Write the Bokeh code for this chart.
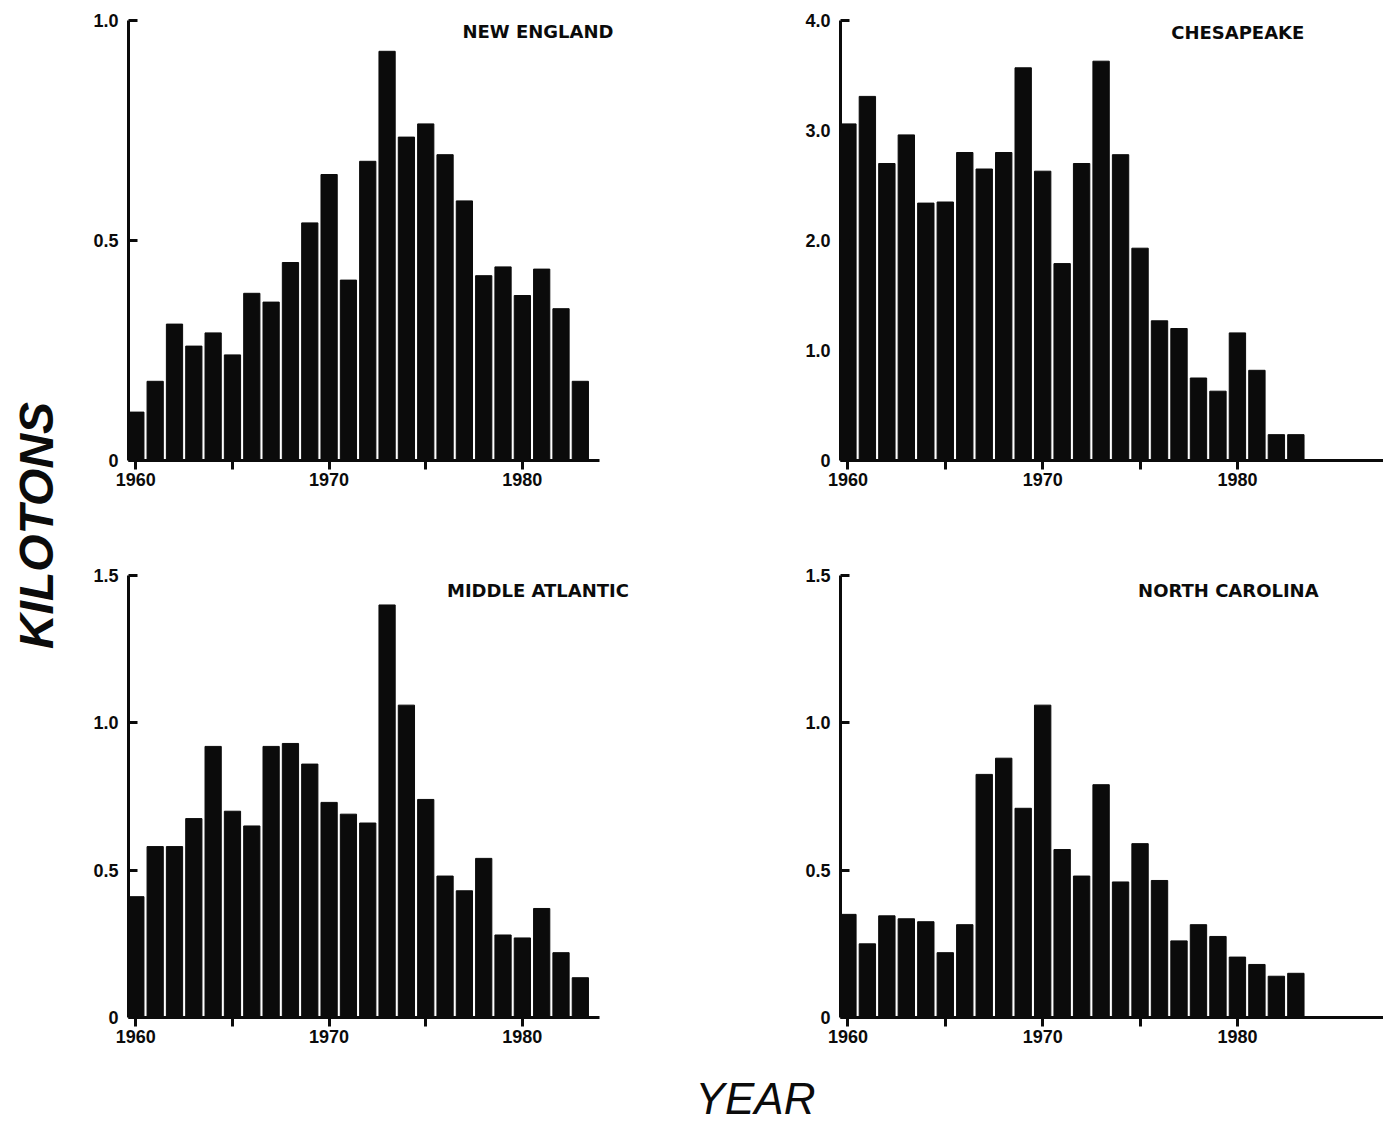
import math
from bokeh.plotting import figure
from bokeh.layouts import row, column
from bokeh.models import FixedTicker, Label, Range1d
from bokeh.embed import file_html
from bokeh.resources import INLINE

# ---------------- data ----------------
years = list(range(1960, 1984))

new_england = [0.11, 0.18, 0.31, 0.26, 0.29, 0.24, 0.38, 0.36, 0.45, 0.54,
               0.65, 0.41, 0.68, 0.93, 0.735, 0.765, 0.695, 0.59, 0.42, 0.44,
               0.375, 0.435, 0.345, 0.18]

chesapeake = [3.06, 3.31, 2.70, 2.96, 2.34, 2.35, 2.80, 2.65, 2.80, 3.57,
              2.63, 1.79, 2.70, 3.63, 2.78, 1.93, 1.27, 1.20, 0.75, 0.63,
              1.16, 0.82, 0.235, 0.235]

middle_atlantic = [0.41, 0.58, 0.58, 0.675, 0.92, 0.70, 0.65, 0.92, 0.93, 0.86,
                   0.73, 0.69, 0.66, 1.40, 1.06, 0.74, 0.48, 0.43, 0.54, 0.28,
                   0.27, 0.37, 0.22, 0.135]

north_carolina = [0.35, 0.25, 0.345, 0.335, 0.325, 0.22, 0.315, 0.825, 0.88, 0.71,
                  1.06, 0.57, 0.48, 0.79, 0.46, 0.59, 0.465, 0.26, 0.315, 0.275,
                  0.205, 0.18, 0.14, 0.15]

x_ticks = [1960, 1965, 1970, 1975, 1980]
x_tick_labels = ["1960", "", "1970", "", "1980"]

titles = ["NEW ENGLAND", "CHESAPEAKE", "MIDDLE ATLANTIC", "NORTH CAROLINA"]
y_label = "KILOTONS"
x_label = "YEAR"

FONT = "Liberation Sans"
INK = "#0b0b0b"
X0 = 1959.62


def panel(values, ymax, yticks, ylabels, title, tx, ty, width, height, xend,
          axis_end, bl, br, bt, bb):
    p = figure(width=width, height=height,
               x_range=Range1d(X0, xend), y_range=Range1d(0, ymax),
               output_backend="svg", toolbar_location=None,
               min_border_left=bl, min_border_right=br,
               min_border_top=bt, min_border_bottom=bb)
    p.vbar(x=years, top=values, width=0.84, fill_color=INK, line_color=INK)
    p.xgrid.visible = False
    p.ygrid.visible = False
    p.outline_line_color = None

    p.xaxis.bounds = (X0, axis_end)
    p.xaxis.ticker = FixedTicker(ticks=x_ticks)
    p.xaxis.major_label_overrides = {t: l for t, l in zip(x_ticks, x_tick_labels)}
    p.xaxis.major_tick_in = 0
    p.xaxis.major_tick_out = 9
    p.xaxis.minor_tick_line_color = None
    p.yaxis.ticker = FixedTicker(ticks=yticks)
    p.yaxis.major_label_overrides = {t: l for t, l in zip(yticks, ylabels)}
    p.yaxis.major_tick_in = 9
    p.yaxis.major_tick_out = 0
    p.yaxis.minor_tick_line_color = None
    p.yaxis.major_label_standoff = 10
    for ax in (p.xaxis, p.yaxis):
        ax.axis_line_width = 3
        ax.axis_line_color = INK
        ax.major_tick_line_width = 3
        ax.major_tick_line_color = INK
        ax.major_label_text_font = FONT
        ax.major_label_text_font_style = "bold"
        ax.major_label_text_font_size = "18px"
        ax.major_label_text_color = INK
    p.xaxis.major_label_standoff = 3

    p.add_layout(Label(x=tx, y=ty, text=title, text_font="DejaVu Sans",
                       text_font_style="bold", text_font_size="18px",
                       text_color=INK, text_align="left",
                       text_baseline="middle"))
    return p


p1 = panel(new_england, 1.0, [0, 0.5, 1.0], ["0", "0.5", "1.0"],
           titles[0], 1976.9, 0.975, 610, 530, 1988.7, 1984.0, 38, 10, 20, 70)
p2 = panel(chesapeake, 4.0, [0, 1, 2, 3, 4], ["0", "1.0", "2.0", "3.0", "4.0"],
           titles[1], 1976.6, 3.89, 683, 530, 1987.5, 1987.5, 140, 0, 20, 70)
p3 = panel(middle_atlantic, 1.5, [0, 0.5, 1.0, 1.5], ["0", "0.5", "1.0", "1.5"],
           titles[2], 1976.1, 1.45, 610, 525, 1988.7, 1984.0, 38, 10, 45, 38)
p4 = panel(north_carolina, 1.5, [0, 0.5, 1.0, 1.5], ["0", "0.5", "1.0", "1.5"],
           titles[3], 1974.9, 1.45, 683, 525, 1987.5, 1987.5, 140, 0, 45, 38)


def blank(width, height):
    f = figure(width=width, height=height, x_range=Range1d(0, width),
               y_range=Range1d(0, height), x_axis_type=None, y_axis_type=None,
               output_backend="svg", toolbar_location=None, min_border=0)
    f.xgrid.visible = False
    f.ygrid.visible = False
    f.outline_line_color = None
    return f


kil = blank(90, 1126)
kil.add_layout(Label(x=36, y=1126 - 525, text=y_label, angle=math.pi / 2,
                     text_font=FONT, text_font_style="bold italic",
                     text_font_size="48px", text_color=INK,
                     text_align="center", text_baseline="middle"))

yr = blank(1293, 71)
yr.add_layout(Label(x=665, y=28, text=x_label, text_font=FONT,
                    text_font_style="italic", text_font_size="44px",
                    text_color=INK, text_align="center",
                    text_baseline="middle"))

layout = row(kil, column(row(p1, p2), row(p3, p4), yr))

open("out.html", "w").write(file_html(layout, INLINE))
